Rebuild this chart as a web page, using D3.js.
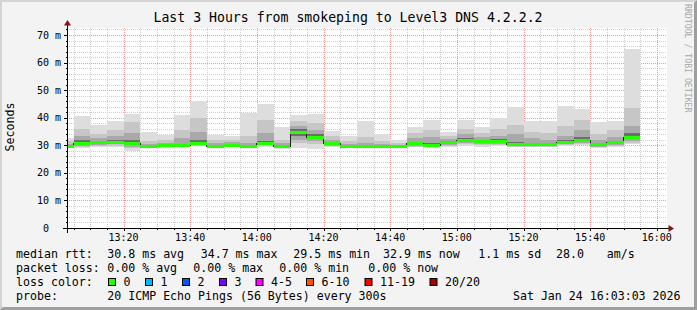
<!DOCTYPE html>
<html>
<head>
<meta charset="utf-8">
<script src="https://cdn.jsdelivr.net/npm/d3@7"></script>
<style>
  html, body { margin: 0; padding: 0; background: #f3f3f3; }
  svg { display: block; }
  text { font-family: "DejaVu Sans Mono", monospace; white-space: pre; }
</style>
</head>
<body>
<div id="chart"></div>
<script>
// 5 minute steps (start of each interval)
const times = ["13:00", "13:05", "13:10", "13:15", "13:20", "13:25", "13:30", "13:35", "13:40", "13:45",
  "13:50", "13:55", "14:00", "14:05", "14:10", "14:15", "14:20", "14:25", "14:30", "14:35",
  "14:40", "14:45", "14:50", "14:55", "15:00", "15:05", "15:10", "15:15", "15:20", "15:25",
  "15:30", "15:35", "15:40", "15:45", "15:50"];

// median rtt in ms
const medianRtt = [29.5, 30.6, 30.9, 31.0, 30.6, 29.5, 29.9, 29.9, 30.5, 29.7,
  30.1, 29.7, 30.5, 29.5, 34.7, 33.0, 30.5, 29.5, 29.7, 29.5,
  29.5, 30.5, 30.1, 30.9, 31.7, 31.2, 31.4, 30.2, 30.2, 30.2,
  30.9, 31.8, 30.2, 30.9, 32.9];

// smoke: ping distribution per step (ms)
const smokeMax = [32.5, 40.6, 37.4, 38.9, 41.3, 34.7, 33.7, 41.0, 46.1, 33.7,
  33.5, 41.8, 44.9, 36.5, 41.0, 41.3, 35.3, 33.5, 38.9, 34.0,
  31.9, 36.5, 39.2, 34.9, 39.2, 36.5, 39.8, 43.8, 38.8, 38.8,
  44.2, 43.2, 38.3, 38.9, 65.0];
const smokeP90 = [31.5, 36.0, 34.0, 35.5, 38.5, 31.5, 32.0, 35.5, 40.0, 32.0,
  32.0, 33.5, 39.0, 32.0, 38.8, 38.0, 33.5, 31.5, 33.0, 31.5,
  30.8, 34.5, 35.5, 33.5, 36.0, 34.5, 36.0, 37.5, 35.0, 34.5,
  37.0, 39.0, 34.0, 35.5, 43.5];
const smokeP75 = [30.5, 33.5, 32.5, 33.5, 34.5, 30.5, 31.0, 32.5, 35.0, 31.0,
  31.2, 31.0, 34.5, 30.8, 37.0, 35.5, 32.0, 30.5, 31.0, 30.3,
  30.0, 32.8, 33.0, 32.2, 34.0, 33.0, 33.5, 34.0, 32.5, 32.0,
  33.5, 35.5, 32.0, 33.0, 37.0];
const smokeP60 = [30.0, 31.8, 31.6, 32.0, 31.8, 29.9, 30.4, 30.6, 31.8, 30.2,
  30.6, 30.2, 31.6, 29.9, 36.0, 34.2, 31.1, 30.0, 30.2, 29.9,
  29.8, 31.3, 31.0, 31.5, 32.5, 31.9, 32.2, 31.2, 31.0, 30.8,
  31.8, 33.0, 30.9, 31.6, 34.5];
const smokeP40 = [29.3, 30.2, 30.5, 30.6, 30.0, 29.3, 29.7, 29.7, 30.2, 29.5,
  29.9, 29.5, 30.2, 29.3, 33.5, 32.2, 30.1, 29.3, 29.5, 29.3,
  29.3, 30.1, 29.8, 30.5, 31.2, 30.8, 30.9, 29.9, 29.9, 29.9,
  30.5, 31.3, 29.8, 30.5, 32.2];
const smokeP25 = [29.2, 29.9, 30.2, 30.3, 29.5, 29.2, 29.5, 29.6, 30.0, 29.4,
  29.7, 29.4, 30.0, 29.2, 32.0, 31.5, 29.8, 29.2, 29.3, 29.2,
  29.2, 29.8, 29.5, 30.2, 30.8, 30.4, 30.5, 29.7, 29.7, 29.7,
  30.3, 30.8, 29.5, 30.2, 31.6];
const smokeP10 = [29.1, 29.5, 29.8, 29.9, 29.0, 29.1, 29.3, 29.5, 29.8, 29.3,
  29.5, 29.3, 29.8, 29.0, 30.8, 30.5, 29.6, 29.1, 29.2, 29.1,
  29.1, 29.5, 29.3, 29.9, 30.3, 30.0, 30.1, 29.5, 29.5, 29.5,
  30.1, 30.4, 29.3, 29.9, 30.9];
const smokeMin = [29.0, 28.9, 29.4, 29.5, 28.0, 29.0, 29.0, 29.3, 29.6, 29.2,
  29.3, 29.2, 29.5, 28.8, 29.0, 28.8, 29.3, 29.0, 29.0, 28.9,
  28.9, 29.2, 29.0, 29.5, 29.8, 29.5, 29.7, 29.3, 29.3, 29.2,
  29.8, 30.0, 29.0, 29.5, 30.3];

const yTicks = [0, 10, 20, 30, 40, 50, 60, 70];
const title = "Last 3 Hours from smokeping to Level3 DNS 4.2.2.2";
const timeStart = "2026-01-24 13:03:03";
const timeEnd = "2026-01-24 16:03:03";

const legendRtt = ["median rtt:", "30.8 ms avg", "34.7 ms max", "29.5 ms min", "32.9 ms now", "1.1 ms sd", "28.0", "am/s"];
const legendLoss = ["packet loss:", "0.00 % avg", "0.00 % max", "0.00 % min", "0.00 % now"];
const lossLabels = ["0", "1", "2", "3", "4-5", "6-10", "11-19", "20/20"];
const lossColors = ["#26ff00", "#00b8ff", "#0059ff", "#7e00ff", "#ff00ff", "#ff5500", "#ff0000", "#a10000"];
const probeText = "20 ICMP Echo Pings (56 Bytes) every 300s";
const stampText = "Sat Jan 24 16:03:03 2026";

// layout
const W = 697, H = 310;
const plot = { left: 67, right: 667, top: 28, bottom: 228 };
const rttX = [16, 107.3, 200.7, 293.3, 383, 478.3, 556, 606.7];
const lossX = [16, 107.3, 193.3, 279.3, 368.3];
const boxX = [108.5, 145.5, 182.5, 219.5, 256, 306.5, 365, 430];
const legendRows = [258, 272, 286, 300];

const parseTime = d3.timeParse("%Y-%m-%d %H:%M:%S");
const parseStep = d3.timeParse("%Y-%m-%d %H:%M");
const steps = times.map((t) => parseStep("2026-01-24 " + t));

const x = d3.scaleTime()
  .domain([parseTime(timeStart), parseTime(timeEnd)])
  .range([plot.left, plot.right]);
const y = d3.scaleLinear().domain([0, 72.54]).range([plot.bottom, plot.top]);
const px = (v) => Math.round(v) + 0.5;

const svg = d3.select("#chart").append("svg")
  .attr("width", W)
  .attr("height", H);

// frame
svg.append("rect").attr("width", W).attr("height", H).attr("fill", "#9e9e9e");
svg.append("path")
  .attr("d", `M0,0H${W}L${W - 3},3H3V${H - 3}L0,${H}Z`)
  .attr("fill", "#d4d4d4");
svg.append("rect")
  .attr("x", 2).attr("y", 2)
  .attr("width", W - 5).attr("height", H - 5)
  .attr("fill", "#f3f3f3");

svg.append("rect")
  .attr("x", plot.left).attr("y", plot.top)
  .attr("width", plot.right - plot.left).attr("height", plot.bottom - plot.top)
  .attr("fill", "#ffffff");

svg.append("defs").append("clipPath").attr("id", "clip")
  .append("rect")
  .attr("x", plot.left).attr("y", plot.top)
  .attr("width", plot.right - plot.left).attr("height", plot.bottom - plot.top);

const grid = svg.append("g")
  .attr("shape-rendering", "crispEdges")
  .attr("stroke-width", 1)
  .attr("stroke-dasharray", "1,1");

// minor grid
const minorX = x.ticks(d3.timeMinute.every(5)).filter((d) => d.getMinutes() % 20 !== 0);
const majorX = x.ticks(d3.timeMinute.every(20));
const minorY = d3.range(2, 73, 2).filter((v) => v % 10 !== 0);

grid.selectAll(".mx").data(minorX).join("line")
  .attr("x1", (d) => px(x(d))).attr("x2", (d) => px(x(d)))
  .attr("y1", plot.top).attr("y2", plot.bottom)
  .attr("stroke", "#cfcfcf");
grid.selectAll(".my").data(minorY).join("line")
  .attr("x1", plot.left).attr("x2", plot.right)
  .attr("y1", (d) => px(y(d))).attr("y2", (d) => px(y(d)))
  .attr("stroke", "#cfcfcf");

// smoke
const smoke = svg.append("g").attr("clip-path", "url(#clip)").attr("shape-rendering", "crispEdges");
const layers = [
  [smokeMin, smokeMax, "#dddddd"],
  [smokeP10, smokeP90, "#c6c6c6"],
  [smokeP25, smokeP75, "#a9a9a9"],
  [smokeP40, smokeP60, "#6e6e6e"],
];
layers.forEach(([lo, hi, color]) => {
  smoke.append("g").selectAll("rect").data(steps).join("rect")
    .attr("x", (d) => Math.round(x(d)))
    .attr("width", (d) => Math.round(x(d3.timeMinute.offset(d, 5))) - Math.round(x(d)))
    .attr("y", (d, i) => Math.round(y(hi[i])))
    .attr("height", (d, i) => Math.round(y(lo[i])) - Math.round(y(hi[i])))
    .attr("fill", color);
});

// major grid (drawn over the smoke like rrdtool)
grid.selectAll(".Mx").data(majorX).join("line")
  .attr("x1", (d) => px(x(d))).attr("x2", (d) => px(x(d)))
  .attr("y1", plot.top).attr("y2", plot.bottom)
  .attr("stroke", "#f29a9a");
grid.selectAll(".My").data(yTicks.filter((v) => v > 0)).join("line")
  .attr("x1", plot.left).attr("x2", plot.right)
  .attr("y1", (d) => px(y(d))).attr("y2", (d) => px(y(d)))
  .attr("stroke", "#f29a9a");

// median line
const medPts = steps.map((d, i) => [x(d), y(medianRtt[i])]);
medPts.push([x(d3.timeMinute.offset(steps[steps.length - 1], 5)), y(medianRtt[medianRtt.length - 1])]);
smoke.append("path")
  .attr("d", d3.line().curve(d3.curveStepAfter)(medPts))
  .attr("fill", "none")
  .attr("stroke", "#202020")
  .attr("stroke-width", 1);
smoke.append("g").selectAll("rect").data(steps).join("rect")
  .attr("x", (d) => Math.round(x(d)))
  .attr("width", (d) => Math.round(x(d3.timeMinute.offset(d, 5))) - Math.round(x(d)))
  .attr("y", (d, i) => Math.round(y(medianRtt[i]) - 1.5))
  .attr("height", 3)
  .attr("fill", lossColors[0]);

// axes
const axes = svg.append("g").attr("shape-rendering", "crispEdges").attr("stroke", "#000");
axes.append("line")
  .attr("x1", plot.left - 4).attr("x2", plot.right + 2)
  .attr("y1", px(plot.bottom)).attr("y2", px(plot.bottom));
axes.append("line")
  .attr("x1", px(plot.left)).attr("x2", px(plot.left))
  .attr("y1", plot.bottom + 5).attr("y2", plot.top - 3);
axes.selectAll(".ty").data(yTicks).join("line")
  .attr("x1", plot.left - 3).attr("x2", plot.left)
  .attr("y1", (d) => px(y(d))).attr("y2", (d) => px(y(d)));
axes.selectAll(".ty2").data(minorY).join("line")
  .attr("x1", plot.left - 1).attr("x2", plot.left)
  .attr("y1", (d) => px(y(d))).attr("y2", (d) => px(y(d)));
axes.selectAll(".tx").data(majorX).join("line")
  .attr("x1", (d) => px(x(d))).attr("x2", (d) => px(x(d)))
  .attr("y1", plot.bottom).attr("y2", plot.bottom + 3);
axes.selectAll(".tx2").data(minorX).join("line")
  .attr("x1", (d) => px(x(d))).attr("x2", (d) => px(x(d)))
  .attr("y1", plot.bottom).attr("y2", plot.bottom + 2);

svg.append("path")
  .attr("d", `M${plot.left + 0.5},${plot.top - 8}l-3.5,5.5h7Z`)
  .attr("fill", "#8b1010");
svg.append("path")
  .attr("d", `M${plot.right + 7},${plot.bottom + 0.5}l-5.5,-3.5v7Z`)
  .attr("fill", "#8b1010");

// tick labels
svg.append("g").selectAll("text").data(yTicks).join("text")
  .attr("x", plot.left - 6)
  .attr("y", (d) => y(d) + 3.5)
  .attr("text-anchor", "end")
  .attr("font-size", "10px")
  .attr("fill", "#000")
  .text((d) => (d === 0 ? "0  " : d + " m"));
svg.append("g").selectAll("text").data(majorX).join("text")
  .attr("x", (d) => x(d))
  .attr("y", 241)
  .attr("text-anchor", "middle")
  .attr("font-size", "10px")
  .attr("fill", "#000")
  .text(d3.timeFormat("%H:%M"));

// titles
svg.append("text")
  .attr("x", 348).attr("y", 22)
  .attr("text-anchor", "middle")
  .attr("font-size", "13.2px")
  .text(title);
svg.append("text")
  .attr("transform", "translate(14,127) rotate(-90)")
  .attr("text-anchor", "middle")
  .attr("font-size", "11.6px")
  .text("Seconds");
svg.append("text")
  .attr("transform", "translate(685,4) rotate(90)")
  .attr("font-size", "8.2px")
  .attr("fill", "#a8a8a8")
  .text("RRDTOOL / TOBI OETIKER");

// legend
const legend = svg.append("g").attr("font-size", "11.6px").attr("fill", "#000");
legendRtt.forEach((t, i) => {
  legend.append("text").attr("x", rttX[i]).attr("y", legendRows[0]).text(t);
});
legendLoss.forEach((t, i) => {
  legend.append("text").attr("x", lossX[i]).attr("y", legendRows[1]).text(t);
});
legend.append("text").attr("x", 16).attr("y", legendRows[2]).text("loss color:");
lossLabels.forEach((t, i) => {
  legend.append("rect")
    .attr("x", boxX[i]).attr("y", legendRows[2] - 7.5)
    .attr("width", 7).attr("height", 7)
    .attr("fill", lossColors[i])
    .attr("stroke", "#000");
  legend.append("text").attr("x", boxX[i] + 15).attr("y", legendRows[2]).text(t);
});
legend.append("text").attr("x", 16).attr("y", legendRows[3]).text("probe:");
legend.append("text").attr("x", 107.3).attr("y", legendRows[3]).text(probeText);
legend.append("text").attr("x", 680.5).attr("y", legendRows[3]).attr("text-anchor", "end").text(stampText);
</script>
</body>
</html>
